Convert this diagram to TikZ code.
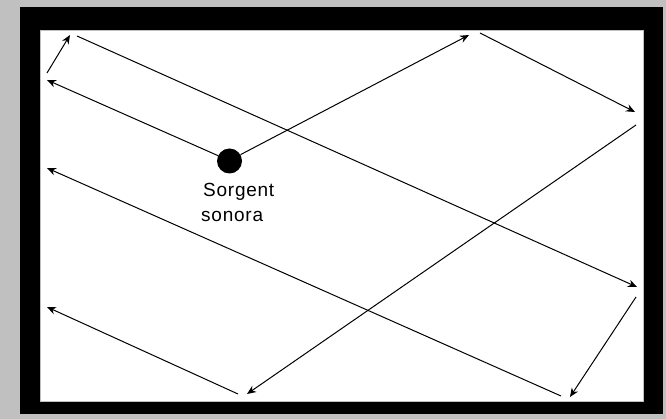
\documentclass[tikz,border=0pt]{standalone}
\usepackage{fontspec}
\newfontfamily\lblfont[LetterSpace=4]{Liberation Sans}
\usetikzlibrary{arrows.meta}
\definecolor{bggray}{HTML}{C0C0C0}
\tikzset{
  ray/.style={draw=black, line width=1pt, -{Stealth[length=9pt,width=7.5pt]}},
  lbl/.style={font=\lblfont\fontsize{19}{22}\selectfont, inner sep=0pt, anchor=base west},
}
\begin{document}
\begin{tikzpicture}[x=1pt,y=-1pt]
\useasboundingbox (0,0) rectangle (666,419);
\fill[bggray] (0,0) rectangle (666,419);
\fill[black] (20,7) rectangle (663,414);
\fill[white] (40,30) rectangle (643,401);
\draw[bggray, line width=0.8pt] (40,30) rectangle (643,401);
% sound source
\node[circle, fill=black, minimum size=25pt, inner sep=0pt] (src) at (229.5,161) {};
\node[lbl] (l1) at (203,197) {Sorgent};
\node[lbl] (l2) at (201,222) {sonora};
% bounce points
\coordinate (a1) at (469,35);
\coordinate (a2) at (480,33);
\coordinate (b1) at (635,112);
\coordinate (b2) at (636,125);
\coordinate (c1) at (247,394);
\coordinate (c2) at (238,394);
\coordinate (d1) at (47,307);
\coordinate (e1) at (47,80);
\coordinate (e2) at (47,73);
\coordinate (f1) at (70,35);
\coordinate (f2) at (77,36);
\coordinate (g1) at (637,287);
\coordinate (g2) at (636,297);
\coordinate (h1) at (570,397);
\coordinate (h2) at (561,396);
\coordinate (k1) at (47,168);
% rays
\draw[ray] (src.30) -- (a1);
\draw[ray] (a2) -- (b1);
\draw[ray] (b2) -- (c1);
\draw[ray] (c2) -- (d1);
\draw[ray] (src.155) -- (e1);
\draw[ray] (e2) -- (f1);
\draw[ray] (f2) -- (g1);
\draw[ray] (g2) -- (h1);
\draw[ray] (h2) -- (k1);
\end{tikzpicture}
\end{document}
